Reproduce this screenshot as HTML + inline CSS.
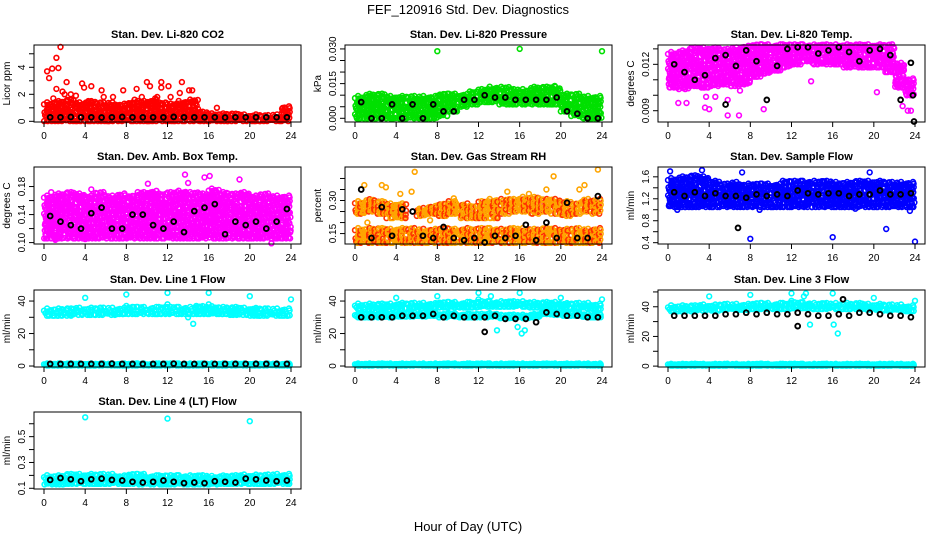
<!DOCTYPE html>
<html><head><meta charset="utf-8"><title>FEF_120916 Std. Dev. Diagnostics</title>
<style>
html,body{margin:0;padding:0;background:#fff;}
svg{display:block;font-family:"Liberation Sans",sans-serif;}
</style></head>
<body>
<svg id="chart" width="936" height="540" viewBox="0 0 936 540">
<text x="468" y="14" text-anchor="middle" font-size="13">FEF_120916  Std. Dev. Diagnostics</text>
<text x="468" y="531" text-anchor="middle" font-size="13">Hour of Day (UTC)</text>
</svg>
<script>
// ---- data (values per hour 0..24 for cloud bands; black series at hour i+0.6) ----
const hourTicks = [0,4,8,12,16,20,24];

const co2Lo = [0.02,0.02,0.02,0.02,0.02,0.02,0.02,0.02,0.02,0.02,0.02,0.02,0.02,0.02,0.02,0.02,0.02,0.02,0.02,0.02,0.02,0.02,0.02,0.02,0.02];
const co2Hi = [1.3,1.4,1.5,1.3,1.4,1.3,1.3,1.2,1.3,1.4,1.5,1.3,1.2,1.4,1.5,0.6,0.5,0.5,0.45,0.4,0.4,0.35,0.4,1.0,0.5];
const co2Black = [0.3,0.3,0.32,0.3,0.3,0.28,0.3,0.32,0.3,0.3,0.3,0.3,0.33,0.3,0.3,0.3,0.3,0.28,0.3,0.3,0.3,0.3,0.3,0.3];
const co2Out = [[0.3,3.7],[0.5,3.2],[0.8,3.9],[1.2,4.7],[1.4,3.95],[1.6,5.5],[1.2,2.4],[1.8,2.2],[2.2,2.9],[3.7,2.8],[4.6,2.6],[3.9,2.5],[5.6,2.3],[7.7,2.3],[9,2.4],[10,2.9],[10.3,2.6],[11.4,2.9],[11.4,2.5],[12.1,2.6],[13.4,2.9],[14.1,2.3],[14.4,2.3],[5.8,1.8],[8.8,1.6],[16.8,1.0],[2.6,2.0],[3.1,1.9],[0.9,1.7],[6.7,1.8],[9.5,1.8],[10.8,1.7],[12.3,1.8],[13.2,2.1],[14.5,1.5],[2.0,2.0],[4.3,1.5],[11.0,1.8]];
const co2Ticks = [0,1,2,3,4,5];
const co2Labels = ["0","","2","","4",""];

const presLo = [0,0,0,0,0,0,0,0,0.001,0.003,0.005,0.006,0.007,0.007,0.006,0.006,0.006,0.006,0.006,0.006,0.003,0.001,0,0,0];
const presHi = [0.009,0.010,0.010,0.009,0.009,0.009,0.009,0.009,0.010,0.010,0.010,0.011,0.012,0.013,0.013,0.012,0.012,0.013,0.013,0.013,0.010,0.010,0.009,0.009,0.009];
const presBlack = [0.007,0,0,0.006,0,0.006,0,0.006,0.003,0.003,0.008,0.008,0.010,0.009,0.009,0.008,0.008,0.008,0.008,0.009,0.003,0.002,0,0];
const presOut = [[8,0.029],[16,0.030],[24,0.029],[19.4,0.014],[0.2,0.007]];
const presTicks = [0,0.005,0.010,0.015,0.020,0.025,0.030];
const presLabels = ["0.000","","","0.015","","","0.030"];

const tempLo = [0.0105,0.0104,0.0106,0.0105,0.0106,0.0107,0.0106,0.0107,0.0112,0.0114,0.0116,0.0118,0.0120,0.0122,0.0120,0.0120,0.0120,0.0118,0.0118,0.0118,0.0118,0.0115,0.0105,0.0100,0.0102];
const tempHi = [0.0127,0.0128,0.0130,0.0130,0.0130,0.0129,0.0130,0.0131,0.0132,0.0132,0.0132,0.0132,0.0132,0.0132,0.0132,0.0132,0.0132,0.0132,0.0132,0.0132,0.0132,0.0132,0.0120,0.0110,0.0110];
const tempBlack = [0.0120,0.0115,0.0110,0.0113,0.0124,0.0126,0.0119,0.0129,0.0122,0.0097,0.0119,0.0130,0.0131,0.0131,0.0127,0.0129,0.0131,0.0128,0.0122,0.0129,0.0130,0.0126,0.0097,0.0121];
const tempOut = [[1,0.0095],[1.8,0.0095],[3.6,0.0092],[4,0.0091],[5.8,0.0087],[6.9,0.0087],[5.8,0.0097],[9.3,0.0091],[20.3,0.0102],[23.3,0.0090],[23.6,0.0090],[22.8,0.0093],[3.7,0.0099],[4.6,0.0099],[7.0,0.0103],[13.9,0.0109]];
const tempBlackOut = [[23.9,0.0083],[5.6,0.0094],[23.8,0.0100]];
const tempTicks = [0.009,0.010,0.011,0.012,0.013];
const tempLabels = ["0.009","","","0.012",""];

const ambLo = [0.106,0.106,0.106,0.106,0.106,0.106,0.106,0.106,0.106,0.106,0.106,0.106,0.106,0.106,0.106,0.106,0.106,0.106,0.106,0.106,0.106,0.106,0.106,0.106,0.106];
const ambHi = [0.165,0.168,0.17,0.168,0.165,0.17,0.165,0.168,0.165,0.17,0.172,0.168,0.17,0.172,0.17,0.168,0.175,0.17,0.168,0.17,0.165,0.168,0.165,0.165,0.16];
const ambBlack = [0.138,0.13,0.125,0.12,0.142,0.15,0.12,0.12,0.14,0.14,0.125,0.12,0.13,0.115,0.145,0.15,0.155,0.112,0.13,0.125,0.13,0.12,0.13,0.148];
const ambOut = [[13.7,0.197],[15.6,0.193],[16.1,0.195],[19,0.19],[14,0.185],[10.1,0.184],[4.6,0.176],[0.7,0.172],[1.1,0.104],[22.1,0.099],[22.8,0.107],[4,0.105]];
const ambTicks = [0.10,0.12,0.14,0.16,0.18];
const ambLabels = ["0.10","","0.14","","0.18"];

const rhLo = [0.108,0.108,0.108,0.108,0.108,0.108,0.108,0.108,0.108,0.108,0.108,0.108,0.108,0.108,0.108,0.108,0.108,0.108,0.108,0.108,0.108,0.108,0.108,0.108,0.108];
const rhHi = [0.168,0.168,0.168,0.165,0.168,0.168,0.165,0.165,0.168,0.165,0.168,0.165,0.168,0.168,0.165,0.168,0.168,0.165,0.168,0.168,0.165,0.168,0.165,0.168,0.165];
const rh2Lo = [0.24,0.25,0.24,0.22,0.22,0,0.23,0.24,0.23,0.24,0.22,0.22,0.22,0.22,0.24,0.25,0.25,0.24,0.25,0.24,0.23,0.24,0.25,0.24,0];
const rh2Hi = [0.29,0.30,0.29,0.28,0.28,0,0.26,0.27,0.28,0.29,0.28,0.27,0.29,0.30,0.30,0.30,0.31,0.31,0.30,0.30,0.29,0.28,0.30,0.30,0];
const rhBlack = [0.35,0.13,0.27,0.14,0.26,0.25,0.14,0.13,0.18,0.13,0.12,0.13,0.11,0.14,0.13,0.14,0.19,0.12,0.20,0.13,0.29,0.13,0.13,0.32];
const rhOut = [[5.8,0.43],[23.6,0.44],[19.3,0.41],[2.6,0.37],[3.0,0.36],[22.3,0.37],[0.9,0.37],[5.5,0.34],[18.6,0.35],[21.8,0.35],[16.9,0.33],[14.8,0.34],[4.4,0.33],[9.6,0.31],[1.2,0.2],[7.3,0.21]];
const rhTicks = [0.15,0.20,0.25,0.30,0.35,0.40];
const rhLabels = ["0.15","","","0.30","",""];

const flowLo = [1.05,1.05,1.05,1.05,1.05,1.05,1.05,1.05,1.05,1.05,1.05,1.05,1.05,1.05,1.05,1.05,1.05,1.05,1.05,1.05,1.05,1.05,1.05,1.05,1.05];
const flowHi = [1.55,1.58,1.6,1.58,1.5,1.45,1.48,1.45,1.45,1.45,1.45,1.5,1.5,1.5,1.5,1.5,1.48,1.48,1.5,1.5,1.5,1.48,1.48,1.48,1.45];
const flowBlack = [1.32,1.25,1.32,1.25,1.3,1.25,1.25,1.22,1.28,1.25,1.28,1.25,1.35,1.3,1.28,1.3,1.3,1.25,1.28,1.28,1.35,1.28,1.28,1.3];
const flowOut = [[8,0.47],[16,0.5],[24,0.42],[21.2,0.65],[23.5,0.98],[18.2,1.02],[0.2,1.7],[3.3,1.72],[7.2,1.68],[19.6,1.68],[0.9,1.0],[8.9,1.0]];
const flowBlackOut = [[6.8,0.67]];
const flowTicks = [0.4,0.6,0.8,1.0,1.2,1.4,1.6];
const flowLabels = ["0.4","","0.8","","1.2","","1.6"];

const l1Lo = [31,31,31,31.5,31.5,31.5,31.5,32,32,32,32,32,32,32,32,32,32,32,31.5,31.5,31,31,31,31,31];
const l1Hi = [34.5,34.5,34.5,35,35,35,35,35,35.5,35.5,35.5,35.5,35.5,35.5,35.5,36,36,35.5,35.5,35,35,34.5,34.5,34.5,34.5];
const l1Black = [1.3,1.3,1.3,1.3,1.3,1.3,1.5,1.3,1.3,1.3,1.3,1.3,1.5,1.3,1.3,1.3,1.3,1.3,1.3,1.3,1.3,1.3,1.3,1.3];
const l1Out = [[4,42],[8,44],[12,45],[16,45],[20,43],[24,41],[14.5,26],[14,30],[8,37],[12,38],[16,38],[14.8,37]];
const lineTicks = [0,10,20,30,40];
const lineLabels = ["0","","20","","40"];

const l2Lo = [35,35,35,35,35.5,35.5,35.5,36,36,36,36,36,36.5,36.5,36.5,36.5,36.5,36,36,36,36,35.5,35.5,35,35];
const l2Hi = [37.5,37.5,37.5,37.5,38,38,38,38,38.5,38.5,38.5,38.5,39,39,39,39,39,38.5,38.5,38.5,38,38,38,37.5,37.5];
const l2bLo = [30,30,30,30,30.5,30.5,30.5,31,30,30.5,30,30,30,30.5,29.5,29.5,29.5,30,32,31.5,31,31,30,30,30];
const l2bHi = [31.5,31.5,31.5,31.5,32,32,32,32.5,31.5,32,31.5,31.5,31.5,32,31,31,31,31.5,33,33,32.5,32.5,31.5,31.5,31.5];
const l2Black = [30,30,30,30,31,31,31,32,30,31,30,30,30,31,29,29,29,27,33,32,31,31,30,30];
const l2Out = [[4,42],[8,43],[12,45],[16,45],[20,42],[24,41],[13.2,43],[15.8,24],[16.2,20],[16.5,22],[13.8,22],[8.2,39],[12,41]];
const l2BlackOut = [[12.6,21]];

const l3Lo = [37,37,37,37.5,37.5,38,38,38,38.5,38.5,38.5,38.5,39,39,38.5,38.5,38.5,38.5,38.5,38,38,37.5,37.5,37,37];
const l3Hi = [40,40,40,40.5,40.5,41,41,41,41.5,41.5,41.5,41.5,42,42,41.5,41.5,41.5,41.5,41.5,41,41,40.5,40.5,40,40];
const l3Black = [34,34,34,34,34,35,35,36,35,36,35,35,36,35,34,34,35,34,36,36,35,34,34,33];
const l3Out = [[4,47],[8,48],[12,49],[13.4,49],[16,49],[20,46],[24,44],[16.5,22],[13.8,28],[16.1,28],[13.2,47],[12,44]];
const l3BlackOut = [[12.6,27],[17,45]];
const l3Ticks = [0,10,20,30,40,50];
const l3Labels = ["0","","20","","40",""];

const zeroLo = [0.3,0.3,0.3,0.3,0.3,0.3,0.3,0.3,0.3,0.3,0.3,0.3,0.3,0.3,0.3,0.3,0.3,0.3,0.3,0.3,0.3,0.3,0.3,0.3,0.3];
const zeroHi = [1.2,1.2,1.2,1.2,1.2,1.2,1.2,1.2,1.2,1.2,1.2,1.2,1.2,1.2,1.2,1.2,1.2,1.2,1.2,1.2,1.2,1.2,1.2,1.2,1.2];

const l4Lo = [0.13,0.13,0.135,0.135,0.135,0.135,0.135,0.135,0.135,0.13,0.13,0.13,0.13,0.13,0.13,0.13,0.13,0.135,0.135,0.135,0.135,0.135,0.135,0.135,0.135];
const l4Hi = [0.19,0.19,0.2,0.2,0.2,0.2,0.2,0.19,0.2,0.2,0.19,0.19,0.19,0.19,0.19,0.19,0.185,0.19,0.19,0.195,0.195,0.195,0.2,0.2,0.2];
const l4Black = [0.165,0.18,0.17,0.155,0.17,0.175,0.165,0.16,0.15,0.145,0.15,0.16,0.15,0.14,0.145,0.14,0.155,0.15,0.145,0.175,0.17,0.16,0.155,0.16];
const l4Out = [[4,0.65],[12,0.64],[20,0.62]];
const l4Ticks = [0.1,0.2,0.3,0.4,0.5,0.6];
const l4Labels = ["0.1","","0.3","","0.5",""];

// ---- layout ----
const NS = "http://www.w3.org/2000/svg";
const svg = document.getElementById('chart');
const colLeft = [34, 345, 658];
const rowTop = [45, 167, 290, 412];
const BW = 267, BH = 77;
const jit = [0.0, 0.55, 0.2, 0.8, 0.35, 0.65, 0.1, 0.9, 0.45, 0.25, 0.75, 0.5, 0.05, 0.6, 0.3, 0.85];

function mk(tag, attrs, parent){
  const e = document.createElementNS(NS, tag);
  for (const k in attrs) e.setAttribute(k, attrs[k]);
  (parent || svg).appendChild(e);
  return e;
}

const panels = [
  {name:"co2", title:"Stan. Dev. Li-820 CO2", ylab:"Licor ppm", col:0,row:0, dom:[-0.05,5.65], ticks:co2Ticks, labels:co2Labels, color:"#ff0000",
   bands:[[co2Lo,co2Hi]], out:co2Out, black:co2Black, blackOut:[]},
  {name:"pressure", title:"Stan. Dev. Li-820 Pressure", ylab:"kPa", col:1,row:0, dom:[-0.0016,0.0317], ticks:presTicks, labels:presLabels, color:"#00e000",
   bands:[[presLo,presHi]], out:presOut, black:presBlack, blackOut:[]},
  {name:"li820-temp", title:"Stan. Dev. Li-820 Temp.", ylab:"degrees C", col:2,row:0, dom:[0.00827,0.01325], ticks:tempTicks, labels:tempLabels, color:"#ff00ff",
   bands:[[tempLo,tempHi]], out:tempOut, black:tempBlack, blackOut:tempBlackOut},
  {name:"amb-box-temp", title:"Stan. Dev. Amb. Box Temp.", ylab:"degrees C", col:0,row:1, dom:[0.098,0.2079], ticks:ambTicks, labels:ambLabels, color:"#ff00ff",
   bands:[[ambLo,ambHi]], out:ambOut, black:ambBlack, blackOut:[]},
  {name:"gas-stream-rh", title:"Stan. Dev. Gas Stream RH", ylab:"percent", col:1,row:1, dom:[0.1027,0.452], ticks:rhTicks, labels:rhLabels, color:"#ffa500", color2:"#ff3000",
   bands:[[rhLo,rhHi],[rh2Lo,rh2Hi]], out:rhOut, black:rhBlack, blackOut:[]},
  {name:"sample-flow", title:"Stan. Dev. Sample Flow", ylab:"ml/min", col:2,row:1, dom:[0.376,1.779], ticks:flowTicks, labels:flowLabels, color:"#0000ff",
   bands:[[flowLo,flowHi]], out:flowOut, black:flowBlack, blackOut:flowBlackOut},
  {name:"line1-flow", title:"Stan. Dev. Line 1 Flow", ylab:"ml/min", col:0,row:2, dom:[-0.6,46.8], ticks:lineTicks, labels:lineLabels, color:"#00ffff",
   bands:[[l1Lo,l1Hi],[zeroLo,zeroHi]], out:l1Out, black:l1Black, blackOut:[]},
  {name:"line2-flow", title:"Stan. Dev. Line 2 Flow", ylab:"ml/min", col:1,row:2, dom:[-0.6,46.8], ticks:lineTicks, labels:lineLabels, color:"#00ffff",
   bands:[[l2Lo,l2Hi],[l2bLo,l2bHi],[zeroLo,zeroHi]], out:l2Out, black:l2Black, blackOut:l2BlackOut},
  {name:"line3-flow", title:"Stan. Dev. Line 3 Flow", ylab:"ml/min", col:2,row:2, dom:[-0.6,51.3], ticks:l3Ticks, labels:l3Labels, color:"#00ffff",
   bands:[[l3Lo,l3Hi],[zeroLo,zeroHi]], out:l3Out, black:l3Black, blackOut:l3BlackOut},
  {name:"line4-flow", title:"Stan. Dev. Line 4 (LT) Flow", ylab:"ml/min", col:0,row:3, dom:[0.0945,0.691], ticks:l4Ticks, labels:l4Labels, color:"#00ffff",
   bands:[[l4Lo,l4Hi]], out:l4Out, black:l4Black, blackOut:[]}
];

panels.forEach(p => {
  const L = colLeft[p.col], T = rowTop[p.row], B = T + BH;
  const xs = h => L + 10 + h * (247/24);
  const ys = v => B - (v - p.dom[0]) / (p.dom[1] - p.dom[0]) * BH;
  const g = mk('g', {});
  
  

  const title = mk('text', {x: L + BW/2, y: T - 7, 'text-anchor':'middle', 'font-size':11, 'font-weight':'bold'}, g);
  title.textContent = p.title;
  
  

  const pts = mk('g', {fill:'none', 'stroke-width':1.6}, g);
  
  

  const dot = (x, y, col) => mk('circle', {cx: x.toFixed(1), cy: y.toFixed(1), r: 2.4, stroke: col}, pts);

  p.bands.forEach(([lo, hi], bi) => {
    for (let h = 0; h < 24; h++) {
      if (hi[h] === 0) continue;
      for (let k = 0; k < 6; k++) {
        const yTop = ys(hi[h]), yBot = ys(lo[h]);
        const n = Math.max(1, Math.round((yBot - yTop) / 4));
        for (let j = 0; j <= n; j++) {
          const a = jit[(h * 5 + k * 3 + j * 7) % 16];
          const b = jit[(h * 3 + k * 7 + j * 11 + 5) % 16];
          if (n > 2 && a > 0.85 && j !== 0) continue;
          const hx = h + (k + a) / 6;
          let yy = yTop + (j + (b - 0.5) * 0.9) * (yBot - yTop) / n;
          yy = Math.min(yBot, Math.max(yTop - 1.5, yy));
          const col = (p.color2 && ((j * 3 + k + h) % 3 === 0)) ? p.color2 : p.color;
          const c = dot(xs(hx), yy, col);
          
          
        }
      }
    }
  });
  p.out.forEach(([hx, v]) => {
    const c = dot(xs(hx), ys(v), p.color);
    
    
  });
  p.black.forEach((v, i) => {
    const c = dot(xs(i + 0.6), ys(v), '#000');
    c.setAttribute('stroke-width', 1.9);
    
    
  });
  p.blackOut.forEach(([hx, v]) => {
    const c = dot(xs(hx), ys(v), '#000');
    c.setAttribute('stroke-width', 1.9);
    
    
  });

  const box = mk('rect', {x: L, y: T, width: BW, height: BH, fill: 'none', stroke: '#000', 'stroke-width': 1}, g);
  
  

  const xa = mk('g', {stroke:'#000'}, g);
  
  
  mk('line', {x1: xs(0), x2: xs(24), y1: B, y2: B}, xa);
  hourTicks.forEach(t => {
    mk('line', {x1: xs(t), x2: xs(t), y1: B, y2: B + 5}, xa);
    const tx = mk('text', {x: xs(t), y: B + 17, 'text-anchor':'middle', 'font-size':10, stroke:'none', fill:'#000'}, xa);
    tx.textContent = t;
    
    
  });
  const ya = mk('g', {stroke:'#000'}, g);
  
  
  mk('line', {x1: L, x2: L, y1: ys(p.ticks[0]), y2: ys(p.ticks[p.ticks.length-1])}, ya);
  p.ticks.forEach((t, i) => {
    const y = ys(t);
    mk('line', {x1: L - 5, x2: L, y1: y, y2: y}, ya);
    if (p.labels[i]) {
      const tx = mk('text', {x: L - 9, y: y, 'text-anchor':'middle', 'font-size':10, stroke:'none', fill:'#000',
        transform: `rotate(-90 ${L - 9} ${y})`}, ya);
      tx.textContent = p.labels[i];
      
      
    }
  });
  const yl = mk('text', {x: L - 24, y: T + BH/2, 'text-anchor':'middle', 'font-size':10,
    transform: `rotate(-90 ${L - 24} ${T + BH/2})`}, g);
  yl.textContent = p.ylab;
  
  
});
</script>
</body></html>
